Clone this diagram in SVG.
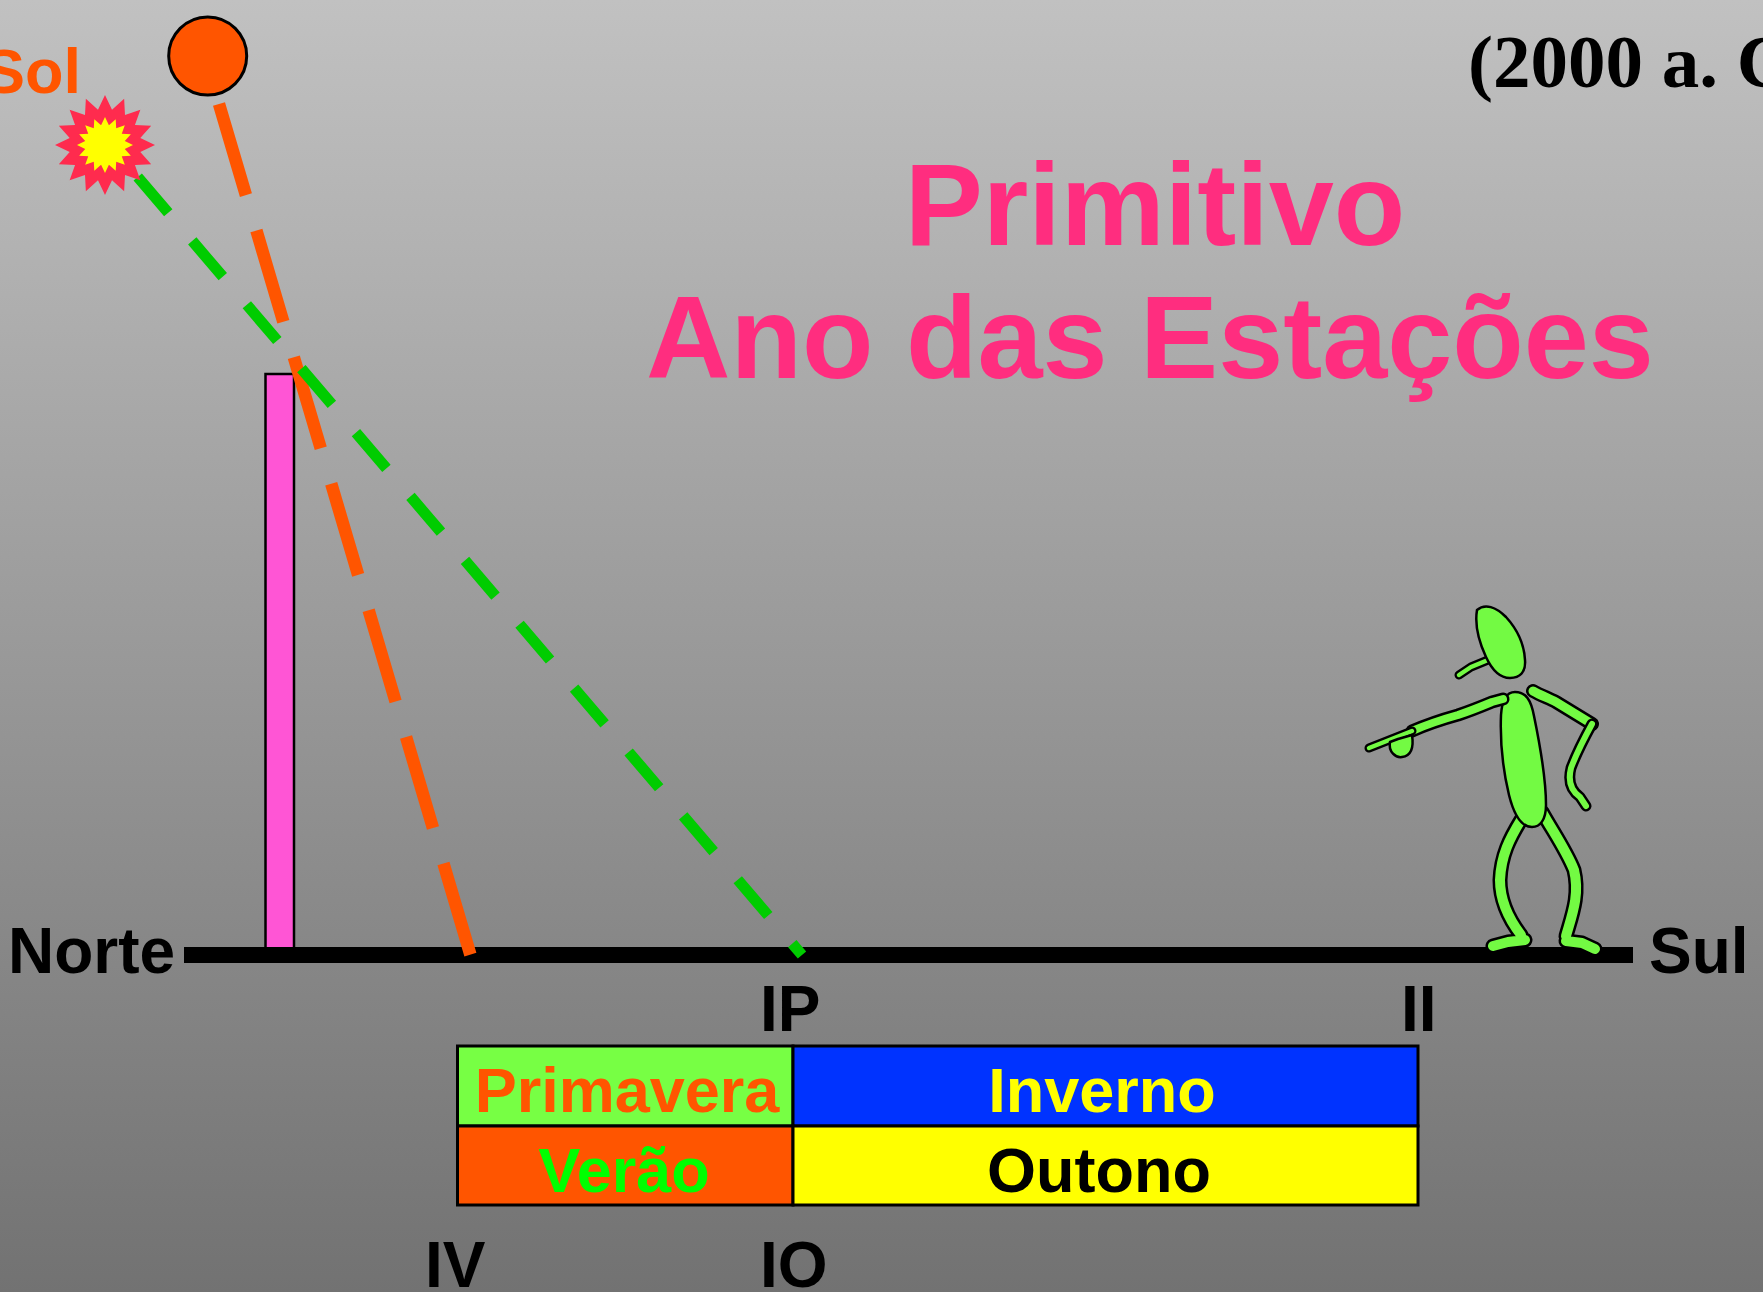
<svg xmlns="http://www.w3.org/2000/svg" width="1763" height="1292" viewBox="0 0 1763 1292">
  <defs>
    <linearGradient id="bg" x1="0" y1="0" x2="0" y2="1">
      <stop offset="0" stop-color="#c1c1c1"/>
      <stop offset="1" stop-color="#727272"/>
    </linearGradient>
    <polygon id="burst" points="0,-50 7.02,-35.31 19.13,-46.19 20,-29.93 35.36,-35.36 29.93,-20 46.19,-19.13 35.31,-7.02 50,0 35.31,7.02 46.19,19.13 29.93,20 35.36,35.36 20,29.93 19.13,46.19 7.02,35.31 0,50 -7.02,35.31 -19.13,46.19 -20,29.93 -35.36,35.36 -29.93,20 -46.19,19.13 -35.31,7.02 -50,0 -35.31,-7.02 -46.19,-19.13 -29.93,-20 -35.36,-35.36 -20,-29.93 -19.13,-46.19 -7.02,-35.31"/>
  </defs>
  <style>
    .sans { font-family: "Liberation Sans", Arial, sans-serif; font-weight: bold; }
    .serif { font-family: "Liberation Serif", "Times New Roman", serif; font-weight: bold; }
    .lbl { font-size: 64px; fill: #000; }
    .title { font-size: 117px; fill: #ff2d7f; }
    .cell { stroke: #000; stroke-width: 3; }
    .celltxt { font-size: 63px; text-anchor: middle; }
    .ray { fill: none; stroke-linecap: butt; }
    .outline { fill: none; stroke: #000; stroke-linecap: round; stroke-linejoin: round; }
    .limb { fill: none; stroke: #73fa43; stroke-linecap: round; stroke-linejoin: round; }
    .skin { fill: #73fa43; stroke: #000; stroke-width: 2.5; stroke-linejoin: round; }
  </style>

  <!-- sky / background -->
  <rect x="0" y="0" width="1763" height="1292" fill="url(#bg)"/>

  <!-- headings -->
  <g id="title">
    <text class="sans title" x="1155" y="245" text-anchor="middle">Primitivo</text>
    <text class="sans title" x="1150" y="378" text-anchor="middle">Ano das Estações</text>
  </g>
  <text id="date" class="serif" x="1468" y="87" font-size="75" fill="#000">(2000 a. C</text>

  <!-- gnomon post -->
  <g id="post">
    <rect x="265.5" y="374" width="28.5" height="581" fill="#ff55d5" stroke="#000" stroke-width="2.5"/>
  </g>

  <!-- north-south ground line -->
  <g id="ground">
    <line x1="184" y1="955" x2="1633" y2="955" stroke="#000" stroke-width="16"/>
    <text class="sans lbl" x="8" y="973">Norte</text>
    <text class="sans lbl" x="1649" y="973">Sul</text>
  </g>

  <!-- sun rays -->
  <g id="connectors">
    <line class="ray" x1="219" y1="104" x2="470.5" y2="955" stroke="#ff5500" stroke-width="12.5" stroke-dasharray="95 37"/>
    <line class="ray" x1="113.7" y1="148.9" x2="802" y2="955" stroke="#00cc00" stroke-width="11" stroke-dasharray="47 37" stroke-dashoffset="47"/>
  </g>

  <!-- summer sun (high) -->
  <g id="sun-high">
    <circle cx="207.7" cy="56" r="39" fill="#ff5500" stroke="#000" stroke-width="3"/>
    <text class="sans" x="81" y="93" font-size="63" fill="#ff5500" text-anchor="end">Sol</text>
  </g>

  <!-- winter sun (low) -->
  <g id="sun-low">
    <use href="#burst" transform="translate(105,145)" fill="#ff2b4e"/>
    <use href="#burst" transform="translate(105,145) scale(0.56)" fill="#ffff00"/>
  </g>

  <!-- shadow markers -->
  <g id="markers">
    <text class="sans lbl" x="760" y="1031">IP</text>
    <text class="sans lbl" x="1401" y="1031">II</text>
    <text class="sans lbl" x="425" y="1287" font-size="65">IV</text>
    <text class="sans lbl" x="760" y="1287" font-size="65">IO</text>
  </g>

  <!-- seasons table -->
  <g id="seasons">
    <rect class="cell" x="457.5" y="1046" width="335.5" height="80" fill="#77ff44"/>
    <rect class="cell" x="793" y="1046" width="625" height="80" fill="#0033ff"/>
    <rect class="cell" x="457.5" y="1126" width="335.5" height="79" fill="#ff5500"/>
    <rect class="cell" x="793" y="1126" width="625" height="79" fill="#ffff00"/>
    <text class="sans celltxt" x="627" y="1112" fill="#ff5500">Primavera</text>
    <text class="sans celltxt" x="1102" y="1112" fill="#ffff00">Inverno</text>
    <text class="sans celltxt" x="624" y="1192" fill="#00ff00">Verão</text>
    <text class="sans celltxt" x="1099" y="1192" fill="#000">Outono</text>
  </g>

  <!-- observer pointing at the shadow -->
  <g id="observer">
    <!-- legs -->
    <path class="outline" stroke-width="15" d="M1521,820 C1510,838 1501,855 1500,880 C1500,900 1508,918 1521,935 M1525,940 L1508,942 L1493,946"/>
    <path class="limb" stroke-width="10" d="M1521,820 C1510,838 1501,855 1500,880 C1500,900 1508,918 1521,935 M1525,940 L1508,942 L1493,946"/>
    <path class="outline" stroke-width="15" d="M1542,812 C1552,830 1566,850 1574,870 C1580,895 1572,915 1566,936 M1566,941 L1582,943 L1595,949"/>
    <path class="limb" stroke-width="10" d="M1542,812 C1552,830 1566,850 1574,870 C1580,895 1572,915 1566,936 M1566,941 L1582,943 L1595,949"/>
    <!-- body -->
    <path class="skin" d="M1515,692 C1526,692 1531,700 1534,716 C1540,745 1546,780 1546,805 C1546,820 1540,827 1532,827 C1522,827 1514,815 1509,795 C1503,770 1500,740 1501,715 C1502,700 1507,692 1515,692 Z"/>
    <!-- pointing arm -->
    <path class="outline" stroke-width="13" d="M1503,699 L1492,702 C1480,707 1470,711 1458,715 C1440,720 1428,724 1412,731"/>
    <path class="limb" stroke-width="8" d="M1503,699 L1492,702 C1480,707 1470,711 1458,715 C1440,720 1428,724 1412,731"/>
    <path class="outline" stroke-width="9" d="M1412,731 L1369,748"/>
    <path class="limb" stroke-width="4.5" d="M1412,731 L1369,748"/>
    <path class="skin" d="M1390,742 C1388,752 1396,758 1402,757 C1411,756 1414,748 1412,735 L1398,739 Z"/>
    <!-- other arm, hand on hip -->
    <path class="outline" stroke-width="14" d="M1533,691 C1540,695 1548,698 1556,702 L1592,724"/>
    <path class="limb" stroke-width="9" d="M1533,691 C1540,695 1548,698 1556,702 L1592,724"/>
    <path class="outline" stroke-width="11" d="M1592,724 C1586,735 1577,752 1571,768 C1568,780 1570,790 1580,797 L1586,806"/>
    <path class="limb" stroke-width="6" d="M1592,724 C1586,735 1577,752 1571,768 C1568,780 1570,790 1580,797 L1586,806"/>
    <!-- neck stalk -->
    <path class="outline" stroke-width="9" d="M1488,660 L1471,667 L1459,675"/>
    <path class="limb" stroke-width="4.5" d="M1488,660 L1471,667 L1459,675"/>
    <!-- head -->
    <path class="skin" d="M1477,610 C1485,603 1496,607 1506,617 C1516,628 1524,642 1525,660 C1526,672 1520,678 1510,678 C1500,678 1492,670 1486,657 C1480,644 1474,628 1477,610 Z"/>
  </g>
</svg>
